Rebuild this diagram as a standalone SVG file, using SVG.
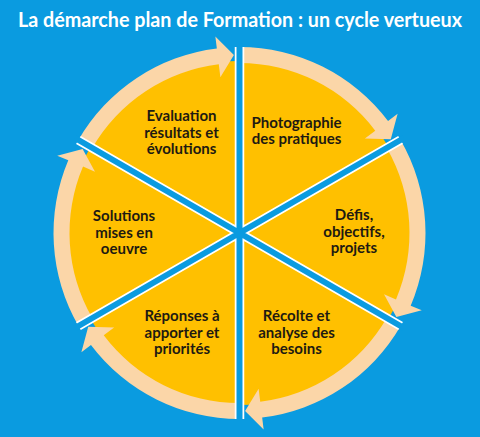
<svg xmlns="http://www.w3.org/2000/svg" width="480" height="437" viewBox="0 0 480 437">
<style>
.bg{fill:#0A9BE0}
.title{font-family:Lato,"Liberation Sans",sans-serif;font-weight:bold;font-size:20px;fill:#ffffff}
.wedge{fill:#FFC000}
.band{fill:#FBD6A8}
.lbl{font-family:Lato,"Liberation Sans",sans-serif;font-weight:bold;font-size:15px;fill:#1E1A12;text-anchor:middle}
.sepw{stroke:#ffffff;stroke-width:9.5;fill:none}
.sepb{stroke:#0A9BE0;stroke-width:6;fill:none}
</style>
<defs>
<path id="w" class="wedge" d="M0,0 L0,-172 A172,172 0 0 1 148.96,-86 Z"/>
<path id="b" class="band" d="M0,-186 A186,186 0 0 1 148.54,-111.93 L158.12,-119.16 L151.28,-93.80 L125.38,-94.48 L135.76,-102.31 A170,170 0 0 0 0,-170 Z"/>
</defs>
<rect class="bg" x="0" y="0" width="480" height="437"/>
<text class="title" x="240" y="27" text-anchor="middle" textLength="444" lengthAdjust="spacingAndGlyphs">La démarche plan de Formation : un cycle vertueux</text>
<g id="node-photographie">
<use href="#w" transform="translate(239.5,233) rotate(0)"/>
<text class="lbl" x="296.5"><tspan x="296.5" y="127.5">Photographie</tspan><tspan x="296.5" y="144">des pratiques</tspan></text>
</g>
<g id="node-defis">
<use href="#w" transform="translate(239.5,233) rotate(60)"/>
<text class="lbl"><tspan x="354" y="220">Défis,</tspan><tspan x="354" y="236.5">objectifs,</tspan><tspan x="354" y="253">projets</tspan></text>
</g>
<g id="node-recolte">
<use href="#w" transform="translate(239.5,233) rotate(120)"/>
<text class="lbl"><tspan x="296.5" y="321">Récolte et</tspan><tspan x="296.5" y="337.5">analyse des</tspan><tspan x="296.5" y="354">besoins</tspan></text>
</g>
<g id="node-reponses">
<use href="#w" transform="translate(239.5,233) rotate(180)"/>
<text class="lbl"><tspan x="182" y="321">Réponses à</tspan><tspan x="182" y="337.5">apporter et</tspan><tspan x="182" y="354">priorités</tspan></text>
</g>
<g id="node-solutions">
<use href="#w" transform="translate(239.5,233) rotate(240)"/>
<text class="lbl"><tspan x="124" y="221">Solutions</tspan><tspan x="124" y="237.5">mises en</tspan><tspan x="124" y="254">oeuvre</tspan></text>
</g>
<g id="node-evaluation">
<use href="#w" transform="translate(239.5,233) rotate(300)"/>
<text class="lbl"><tspan x="181.5" y="121">Evaluation</tspan><tspan x="181.5" y="137.5">résultats et</tspan><tspan x="181.5" y="154">évolutions</tspan></text>
</g>
<g id="connectors">
<use href="#b" transform="translate(239.5,233) rotate(0)"/>
<use href="#b" transform="translate(239.5,233) rotate(60)"/>
<use href="#b" transform="translate(239.5,233) rotate(120)"/>
<use href="#b" transform="translate(239.5,233) rotate(180)"/>
<use href="#b" transform="translate(239.5,233) rotate(240)"/>
<use href="#b" transform="translate(239.5,233) rotate(300)"/>
</g>
<g id="separators" transform="translate(239.5,233)">
<path class="sepw" d="M0,-186 L0,186 M161.08,-93 L-161.08,93 M161.08,93 L-161.08,-93"/>
<path class="sepb" d="M0,-190 L0,190 M164.5,-95 L-164.5,95 M164.5,95 L-164.5,-95"/>
</g>
</svg>
